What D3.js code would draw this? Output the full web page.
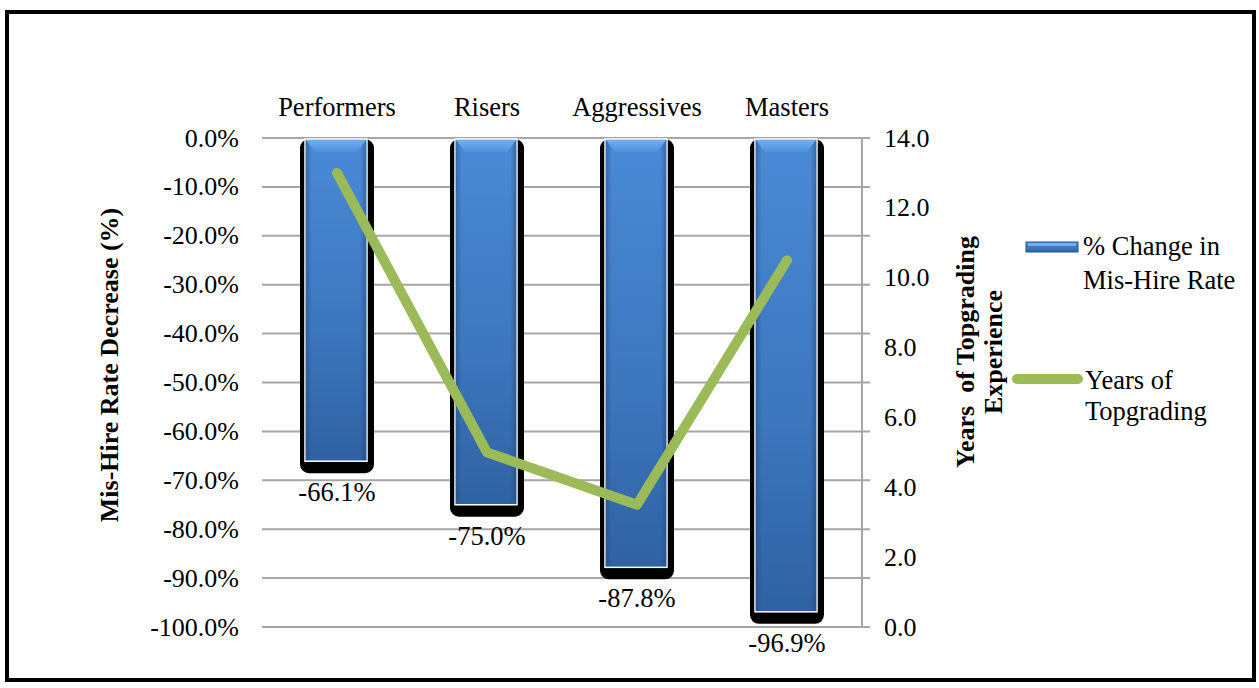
<!DOCTYPE html>
<html><head><meta charset="utf-8">
<script src="https://cdn.jsdelivr.net/npm/d3@7"></script>
<style>body{margin:0;background:#fff}svg{display:block}text{font-family:'Liberation Serif','Times New Roman',Tinos,'DejaVu Serif',serif}</style>
</head><body><svg id="c" width="1259" height="688"></svg>
<script>
const categories = ["Performers","Risers","Aggressives","Masters"];
const pctChange = [-66.1,-75.0,-87.8,-96.9];
const years = [13.0,5.0,3.5,10.5];
const leftTicks = [0,-10,-20,-30,-40,-50,-60,-70,-80,-90,-100];
const rightTicks = [0,2,4,6,8,10,12,14];
const seriesNames = ["% Change in|Mis-Hire Rate","Years of|Topgrading"];

const fmt = v => d3.format(".1f")(v).replace("\u2212","-");
const svg = d3.select("#c");
const defs = svg.append("defs");
const gV = defs.append("linearGradient").attr("id","gv").attr("x1",0).attr("y1",0).attr("x2",0).attr("y2",1);
gV.append("stop").attr("offset","0%").attr("stop-color","#4a8ad6");
gV.append("stop").attr("offset","60%").attr("stop-color","#3c76bd");
gV.append("stop").attr("offset","100%").attr("stop-color","#2f62a3");
const gH = defs.append("linearGradient").attr("id","gh").attr("x1",0).attr("y1",0).attr("x2",1).attr("y2",0);
gH.append("stop").attr("offset","0%").attr("stop-color","#1d3f70").attr("stop-opacity",0.45);
gH.append("stop").attr("offset","10%").attr("stop-color","#1d3f70").attr("stop-opacity",0);
gH.append("stop").attr("offset","90%").attr("stop-color","#1d3f70").attr("stop-opacity",0);
gH.append("stop").attr("offset","100%").attr("stop-color","#1d3f70").attr("stop-opacity",0.45);
const gL = defs.append("linearGradient").attr("id","gl").attr("x1",0).attr("y1",0).attr("x2",0).attr("y2",1);
gL.append("stop").attr("offset","0%").attr("stop-color","#6fb0f2");
gL.append("stop").attr("offset","100%").attr("stop-color","#4f90da");

svg.append("rect").attr("x",7).attr("y",12).attr("width",1247).attr("height",668)
  .attr("fill","#fff").attr("stroke","#000").attr("stroke-width",4);

const x = d3.scaleBand().domain(categories).range([262,862]);
const yL = d3.scaleLinear().domain([0,-100]).range([138,627]);
const yR = d3.scaleLinear().domain([0,14]).range([627,138]);

svg.append("g").selectAll("line").data(leftTicks).join("line")
  .attr("x1",262).attr("x2",870).attr("y1",d=>yL(d)).attr("y2",d=>yL(d))
  .attr("stroke","#a6a6a6").attr("stroke-width",2);
svg.append("line").attr("x1",862).attr("x2",862).attr("y1",yR(14)).attr("y2",yR(0))
  .attr("stroke","#a6a6a6").attr("stroke-width",2);

svg.append("g").selectAll("text").data(leftTicks).join("text")
  .attr("x",239).attr("y",d=>yL(d)).attr("dy","0.33em").attr("text-anchor","end")
  .attr("font-size",26).text(d=>fmt(d)+"%");
svg.append("g").selectAll("text").data(rightTicks).join("text")
  .attr("x",884).attr("y",d=>yR(d)).attr("dy","0.33em").attr("text-anchor","start")
  .attr("font-size",26).text(d=>fmt(d));

svg.append("g").selectAll("text").data(categories).join("text")
  .attr("x",d=>x(d)+x.bandwidth()/2).attr("y",116).attr("text-anchor","middle")
  .attr("font-size",26.5).text(d=>d);

const bw = 62;
const bars = svg.append("g").selectAll("g").data(categories.map((c,i)=>({c,v:pctChange[i]}))).join("g");
bars.append("rect").attr("x",d=>x(d.c)+x.bandwidth()/2-37).attr("y",yL(0)+1)
  .attr("width",74).attr("height",d=>yL(d.v)-yL(0)+11).attr("rx",9).attr("fill","#000");
bars.append("rect").attr("x",d=>x(d.c)+x.bandwidth()/2-bw/2-1).attr("y",yL(0)+1)
  .attr("width",bw).attr("height",d=>yL(d.v)-yL(0)-1).attr("fill","url(#gv)")
  .attr("stroke","#fff").attr("stroke-width",1.5);
bars.append("rect").attr("x",d=>x(d.c)+x.bandwidth()/2-bw/2-0.5).attr("y",yL(0)+2)
  .attr("width",bw-1).attr("height",d=>yL(d.v)-yL(0)-3).attr("fill","url(#gh)");
bars.append("path").attr("d",d=>{const l=x(d.c)+x.bandwidth()/2-bw/2,r=l+bw-2,t=yL(0)+2;
  return `M${l},${t}H${r}L${r-9},${t+12}H${l+9}Z`;}).attr("fill","url(#gl)");
bars.append("text").attr("x",d=>x(d.c)+x.bandwidth()/2).attr("y",d=>yL(d.v)+40)
  .attr("text-anchor","middle").attr("font-size",26.5).text(d=>fmt(d.v)+"%");

const line = d3.line().x((d,i)=>x(categories[i])+x.bandwidth()/2).y(d=>yR(d));
svg.append("path").datum(years).attr("d",line).attr("fill","none")
  .attr("stroke","#9bbb59").attr("stroke-width",10).attr("stroke-linecap","round").attr("stroke-linejoin","round");

svg.append("text").attr("transform","translate(118,365) rotate(-90)").attr("text-anchor","middle")
  .attr("font-size",26).attr("font-weight","bold").text("Mis-Hire Rate Decrease (%)");
const rt = svg.append("text").attr("transform","translate(974,352) rotate(-90)").attr("text-anchor","middle")
  .attr("font-size",26).attr("font-weight","bold").style("white-space","pre");
rt.append("tspan").attr("x",0).attr("dy",0).text("Years  of Topgrading");
rt.append("tspan").attr("x",0).attr("dy",28).text("Experience");

svg.append("rect").attr("x",1026).attr("y",242).attr("width",52).attr("height",10).attr("fill","url(#gv)").attr("stroke","#2a5590").attr("stroke-width",1);
svg.append("rect").attr("x",1028).attr("y",243).attr("width",48).attr("height",3).attr("fill","#6fb0f2");
svg.append("line").attr("x1",1017).attr("x2",1078).attr("y1",379).attr("y2",379)
  .attr("stroke","#9bbb59").attr("stroke-width",10).attr("stroke-linecap","round");
const legY=[255,389];
seriesNames.forEach((n,i)=>{
  const lx = i===0?1083:1085;
  const t=svg.append("text").attr("x",lx).attr("y",legY[i]).attr("font-size",26.5);
  n.split("|").forEach((s,j)=>t.append("tspan").attr("x",lx).attr("dy",j?(i===0?34:31):0).text(s));
});
</script></body></html>
